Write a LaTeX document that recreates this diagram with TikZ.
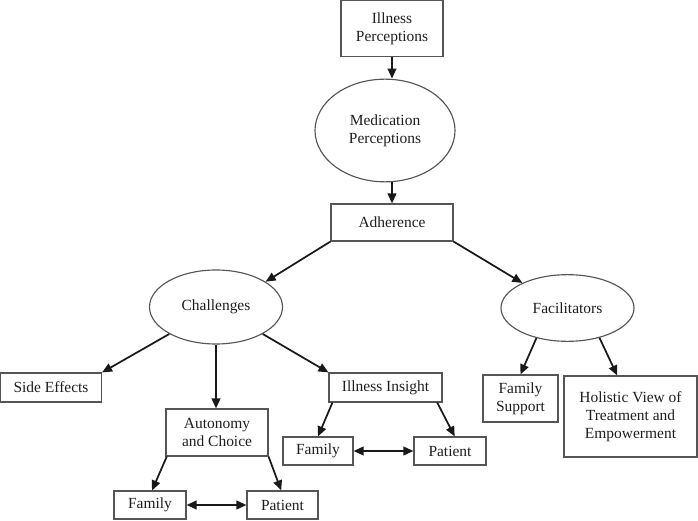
\documentclass[tikz,border=0pt]{standalone}
\usepackage{fontspec}
\setmainfont{Liberation Serif}
\usetikzlibrary{arrows.meta,shapes.geometric}
\definecolor{boxline}{HTML}{555555}
\definecolor{txt}{HTML}{1E1E1E}
\tikzset{
  bx/.style={draw=boxline,line width=0.85pt,text=txt,align=center,inner sep=0pt,
    font=\fontsize{11.6pt}{13.5pt}\selectfont},
  el/.style={bx,ellipse},
  arr/.style={-{Triangle[length=7.5pt,width=6.5pt]},line width=1.3pt,draw=black!90},
  darr/.style={{Triangle[length=7.5pt,width=6.5pt]}-{Triangle[length=7.5pt,width=6.5pt]},line width=1.3pt,draw=black!90}
}
\begin{document}
\begin{tikzpicture}[x=0.75pt,y=-0.75pt]
\useasboundingbox (0,0) rectangle (698,520);
% boxes
\node[bx,minimum width=76.5pt,minimum height=41.5pt] (ip) at (392,28.5) {Illness\\Perceptions};
\node[el,minimum width=105pt,minimum height=77pt] (mp) at (385,130.5) {Medication\\Perceptions};
\node[bx,minimum width=91.5pt,minimum height=27.75pt] (adh) at (392,222.5) {Adherence};
\node[el,minimum width=99.75pt,minimum height=55.5pt] (ch) at (216,307) {Challenges};
\node[el,minimum width=99.75pt,minimum height=50pt] (fa) at (567.5,308) {Facilitators};
\node[bx,minimum width=75.75pt,minimum height=21.75pt] (se) at (51,387.5) {Side Effects};
\node[bx,minimum width=76.5pt,minimum height=35.25pt] (ac) at (217,432.5) {Autonomy\\and Choice};
\node[bx,minimum width=84.75pt,minimum height=21.75pt] (ii) at (385.5,387.5) {Illness Insight};
\node[bx,minimum width=52.5pt,minimum height=21pt] (f2) at (318,451) {Family};
\node[bx,minimum width=54pt,minimum height=21pt] (p2) at (450,451) {Patient};
\node[bx,minimum width=54pt,minimum height=21pt] (f1) at (150,505) {Family};
\node[bx,minimum width=53.25pt,minimum height=21pt] (p1) at (282.5,505) {Patient};
\node[bx,minimum width=56.25pt,minimum height=35.25pt] (fs) at (520.5,398.5) {Family\\Support};
\node[bx,minimum width=99.75pt,minimum height=60.75pt] (hv) at (630.5,416.5) {Holistic View of\\Treatment and\\Empowerment};
% connectors
\draw[arr] (ip.south) -- (ip.south |- mp.north);
\draw[arr] (adh.north |- mp.south) -- (adh.north);
\draw[arr] (adh.south west) -- (ch.27);
\draw[arr] (adh.south east) -- (fa.151);
\draw[arr] (ch.210) -- (se.north east);
\draw[arr] (ch.south) -- (ch.south |- ac.north);
\draw[arr] (ch.330) -- (ii.north west);
\draw[arr] ([xshift=1pt]ac.south west) -- ([xshift=1.5pt]f1.north);
\draw[arr] (ac.south east) -- ([xshift=-1pt]p1.north);
\draw[arr] ([xshift=3pt]ii.south west) -- (f2.north);
\draw[arr] ([xshift=-4pt]ii.south east) -- ([xshift=3.5pt]p2.north);
\draw[darr] (f1.east) -- (p1.west);
\draw[darr] (f2.east) -- (p2.west);
\draw[arr] (fa.224) -- (fs.north);
\draw[arr] (fa.317) -- ([xshift=-10pt]hv.north);
\end{tikzpicture}
\end{document}
